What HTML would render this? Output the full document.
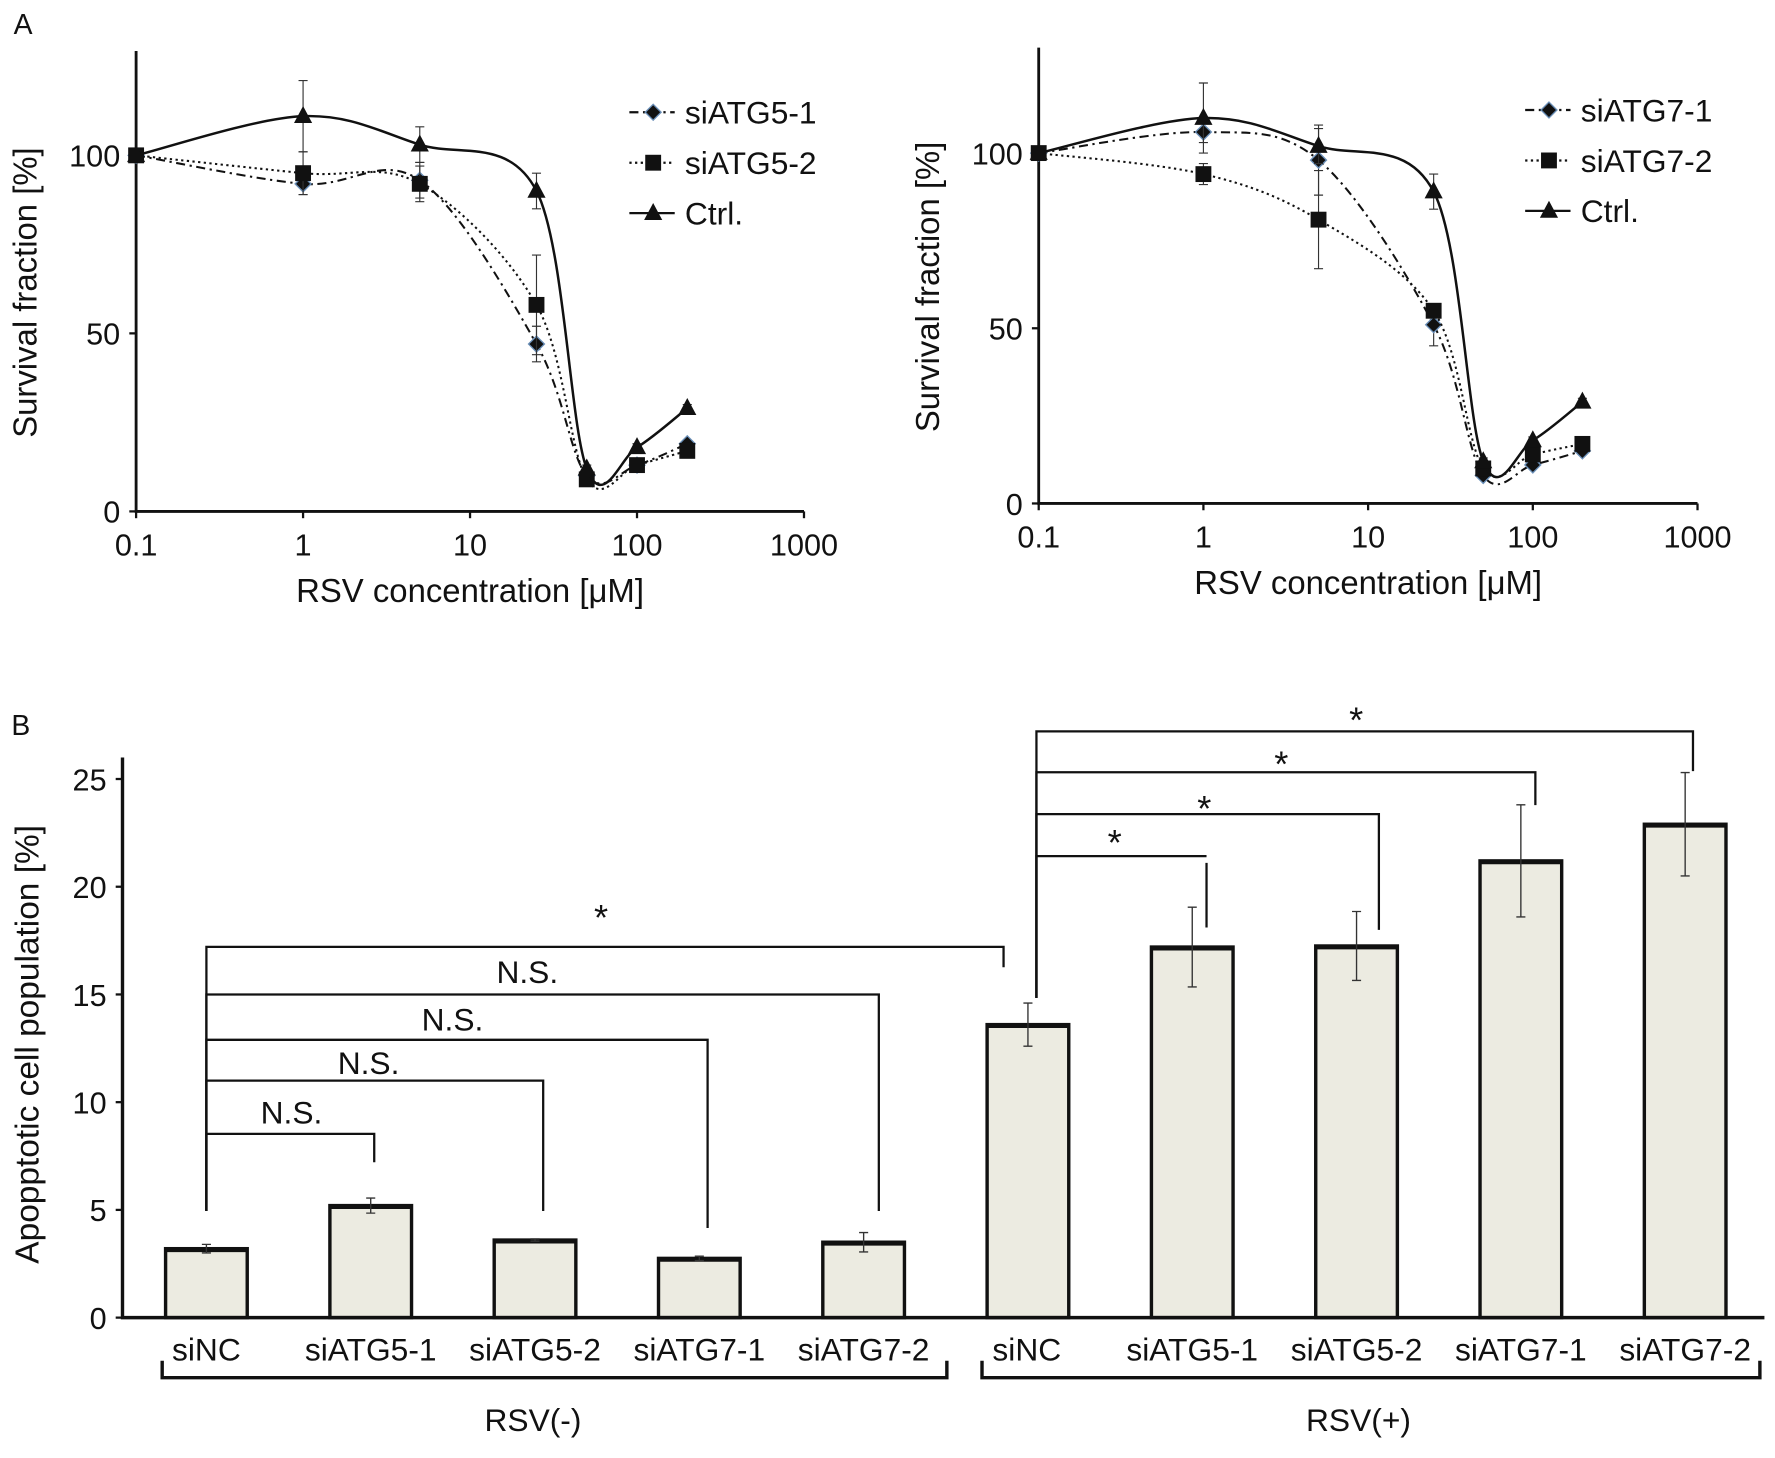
<!DOCTYPE html>
<html><head><meta charset="utf-8"><style>
html,body{margin:0;padding:0;background:#fff;}
svg{display:block;font-family:"Liberation Sans",Arial,sans-serif;}
</style></head><body>
<svg id="fig" width="1775" height="1458" viewBox="0 0 1565.3 1285.8" xmlns="http://www.w3.org/2000/svg"></svg>
<script>
// ---------- Panel A data ----------
const concs = [0.1, 1, 5, 25, 50, 100, 200];
const xTicksA = [0.1, 1, 10, 100, 1000];
const xTickLabelsA = ["0.1", "1", "10", "100", "1000"];
const yTicksA = [0, 50, 100];
const atg5_1 = [100, 92, 93, 47, 10, 13, 19];
const atg5_1_err = [0, 3, 5, 5, 1, 1, 1];
const atg5_2 = [100, 95, 92, 58, 9, 13, 17];
const atg5_2_err = [0, 6, 5, 14, 1, 1, 1];
const ctrlA = [100, 111, 103, 90, 12, 18, 29];
const ctrlA_err = [0, 10, 5, 5, 1, 1, 1];
const atg7_1 = [100, 106, 98, 51, 8, 11, 15];
const atg7_1_err = [0, 3, 10, 6, 1, 1, 1];
const atg7_2 = [100, 94, 81, 55, 10, 14, 17];
const atg7_2_err = [0, 3, 14, 2, 1, 1, 1];
const ctrlB = [100, 110, 102, 89, 12, 18, 29];
const ctrlB_err = [0, 10, 5, 5, 1, 1, 1];
// ---------- Panel B data ----------
const barCats = ["siNC","siATG5-1","siATG5-2","siATG7-1","siATG7-2","siNC","siATG5-1","siATG5-2","siATG7-1","siATG7-2"];
const barVals = [3.2, 5.2, 3.6, 2.75, 3.5, 13.6, 17.2, 17.25, 21.2, 22.9];
const barErrs = [0.2, 0.35, 0.05, 0.1, 0.45, 1.0, 1.85, 1.6, 2.6, 2.4];
const yTicksB = [0, 5, 10, 15, 20, 25];

const NS = "http://www.w3.org/2000/svg";
const svg = document.getElementById("fig");
function mk(tag, attrs, parent) {
  const e = document.createElementNS(NS, tag);
  for (const k in attrs) e.setAttribute(k, attrs[k]);
  (parent || svg).appendChild(e);
  return e;
}
function txt(s, x, y, size, anchor, parent) {
  const t = mk("text", {x: x, y: y, "font-size": size, "text-anchor": anchor || "middle", fill: "#111"}, parent);
  t.textContent = s;
  return t;
}
function catmull(pts) {
  let d = "M" + pts[0][0] + "," + pts[0][1];
  for (let i = 0; i < pts.length - 1; i++) {
    const p0 = pts[i - 1] || pts[i], p1 = pts[i], p2 = pts[i + 1], p3 = pts[i + 2] || p2;
    const c1x = p1[0] + (p2[0] - p0[0]) / 6, c1y = p1[1] + (p2[1] - p0[1]) / 6;
    const c2x = p2[0] - (p3[0] - p1[0]) / 6, c2y = p2[1] - (p3[1] - p1[1]) / 6;
    d += " C" + c1x + "," + c1y + " " + c2x + "," + c2y + " " + p2[0] + "," + p2[1];
  }
  return d;
}
function marker(kind, x, y, g) {
  let m;
  if (kind === "diamond") m = mk("polygon", {points: `${x},${y-7} ${x+7},${y} ${x},${y+7} ${x-7},${y}`, fill: "#111", stroke: "#6a8fb8", "stroke-width": 1.2}, g);
  else if (kind === "square") m = mk("rect", {x: x-7, y: y-7, width: 14, height: 14, fill: "#111"}, g);
  else m = mk("polygon", {points: `${x},${y-9} ${x+8},${y+6} ${x-8},${y+6}`, fill: "#111"}, g);
  return m;
}

function panelA(cfg) {
  const g = mk("g", {});
  
  
  const xs = v => cfg.x0 + (Math.log10(v) + 1) * cfg.dec;
  const ys = v => cfg.y0 - v * cfg.yu;
  const ax = mk("path", {d: `M${xs(0.1)},${cfg.top} V${ys(0)} H${xs(1000)}`, stroke: "#111", "stroke-width": 2.5, fill: "none"}, g);
  
  
  xTicksA.forEach((v, i) => {
    mk("line", {x1: xs(v), x2: xs(v), y1: ys(0), y2: ys(0) + 6, stroke: "#111", "stroke-width": 2}, g);
    const t = txt(xTickLabelsA[i], xs(v), ys(0) + 39, 27, "middle", g);
    
    
  });
  yTicksA.forEach(v => {
    mk("line", {x1: xs(0.1) - 6, x2: xs(0.1), y1: ys(v), y2: ys(v), stroke: "#111", "stroke-width": 2}, g);
    const t = txt(String(v), xs(0.1) - 14, ys(v) + 10, 27, "end", g);
    
    
  });
  const yt = txt("Survival fraction [%]", 0, 0, 29, "middle", g);
  yt.setAttribute("transform", `translate(${cfg.x0 - 88},${(cfg.top + ys(0)) / 2 + 10}) rotate(-90)`);
  
  
  const xt = txt("RSV concentration [\u03bcM]", xs(10), ys(0) + 80, 29, "middle", g);
  
  
  cfg.series.forEach((s, si) => {
    const pts = concs.map((c, i) => [xs(c), ys(s.vals[i])]);
    const ln = mk("path", {d: catmull(pts), fill: "none", stroke: "#111", "stroke-width": s.kind === "triangle" ? 2.2 : 1.8, "stroke-dasharray": s.dash}, g);
    
    
    concs.forEach((c, i) => {
      if (s.errs[i] > 0) {
        const e = mk("path", {d: `M${xs(c)},${ys(s.vals[i]+s.errs[i])} V${ys(s.vals[i]-s.errs[i])} M${xs(c)-4},${ys(s.vals[i]+s.errs[i])} h8 M${xs(c)-4},${ys(s.vals[i]-s.errs[i])} h8`, stroke: "#333", "stroke-width": 1, fill: "none"}, g);
        
        
      }
      const m = marker(s.kind, xs(c), ys(s.vals[i]), g);
      
      
    });
    const ly = cfg.legY + si * 44.5;
    const lg = mk("g", {}, g);
    
    
    mk("line", {x1: cfg.legX, x2: cfg.legX + 40, y1: ly, y2: ly, stroke: "#111", "stroke-width": 2, "stroke-dasharray": s.dash}, lg);
    marker(s.kind, cfg.legX + 21, ly, lg);
    txt(s.label, cfg.legX + 49, ly + 10, 28, "start", lg);
  });
}

const la = txt("A", 12, 30, 25, "start");


panelA({name: "panel-a-atg5-chart", x0: 120, dec: 147.25, y0: 451, yu: 3.14, top: 45, legX: 555, legY: 99,
  series: [
    {label: "siATG5-1", slug: "siatg5-1", vals: atg5_1, errs: atg5_1_err, kind: "diamond", dash: "8,4,2,4"},
    {label: "siATG5-2", slug: "siatg5-2", vals: atg5_2, errs: atg5_2_err, kind: "square", dash: "2,3"},
    {label: "Ctrl.", slug: "ctrl", vals: ctrlA, errs: ctrlA_err, kind: "triangle", dash: "none"}]});
panelA({name: "panel-a-atg7-chart", x0: 916, dec: 145.25, y0: 444, yu: 3.09, top: 42, legX: 1345, legY: 97,
  series: [
    {label: "siATG7-1", slug: "siatg7-1", vals: atg7_1, errs: atg7_1_err, kind: "diamond", dash: "8,4,2,4"},
    {label: "siATG7-2", slug: "siatg7-2", vals: atg7_2, errs: atg7_2_err, kind: "square", dash: "2,3"},
    {label: "Ctrl.", slug: "ctrl", vals: ctrlB, errs: ctrlB_err, kind: "triangle", dash: "none"}]});

// ---------- Panel B ----------
const lb = txt("B", 10, 648, 25, "start");


const gB = mk("g", {});


const bx0 = 182, bstep = 144.9, by0 = 1162, byu = 19.0;
const bxs = i => bx0 + i * bstep;
const bys = v => by0 - v * byu;
barVals.forEach((v, i) => {
  const r = mk("rect", {x: bxs(i) - 36, y: bys(v), width: 72, height: by0 - bys(v), fill: "#ecebe1", stroke: "#111", "stroke-width": 3}, gB);
  
  
  mk("line", {x1: bxs(i) - 36, x2: bxs(i) + 36, y1: bys(v) + 1, y2: bys(v) + 1, stroke: "#111", "stroke-width": 4}, gB);
  const e = barErrs[i];
  const eb = mk("path", {d: `M${bxs(i)},${bys(v+e)} V${bys(v-e)} M${bxs(i)-4},${bys(v+e)} h8 M${bxs(i)-4},${bys(v-e)} h8`, stroke: "#333", "stroke-width": 1.2, fill: "none"}, gB);
  
  
  const t = txt(barCats[i], bxs(i) + (i === 5 ? -1 : 0), 1200, 28, "middle", gB);
  
  
});
const axB = mk("path", {d: `M108,668 V${by0} H1556`, stroke: "#111", "stroke-width": 3, fill: "none"}, gB);


yTicksB.forEach(v => {
  mk("line", {x1: 102, x2: 108, y1: bys(v), y2: bys(v), stroke: "#111", "stroke-width": 2}, gB);
  const t = txt(String(v), 94, bys(v) + 10, 27, "end", gB);
  
  
});
const ytB = txt("Apopptotic cell population [%]", 0, 0, 29.5, "middle", gB);
ytB.setAttribute("transform", "translate(34,921) rotate(-90)");


// group braces
[[143, 835, "RSV(-)", 470], [866, 1552, "RSV(+)", 1198]].forEach(b => {
  const br = mk("path", {d: `M${b[0]},1200 V1215 H${b[1]} V1200`, stroke: "#111", "stroke-width": 3, fill: "none"}, gB);
  
  
  const t = txt(b[2], b[3], 1262, 28, "middle", gB);
  
  
});
// significance brackets
const sig = [
  [182, 885, 835, 853, 1068, "*", 530, 820],
  [182, 775, 877, 1068, 1068, "N.S.", 465, 867],
  [182, 624, 917, 1083, 1068, "N.S.", 399, 909],
  [182, 479, 953, 1068, 1068, "N.S.", 325, 947],
  [182, 330, 1000, 1025, 1068, "N.S.", 257, 991],
  [914, 1493, 645, 680, 880, "*", 1196, 646],
  [914, 1354, 681, 710, 880, "*", 1130, 685],
  [914, 1216, 718, 820, 880, "*", 1062, 724],
  [914, 1064, 755, 818, 880, "*", 983, 754]
];
sig.forEach(s => {
  const p = mk("path", {d: `M${s[0]},${s[4]} V${s[2]} H${s[1]} ${s[0]===914 && s[1]===1064 ? "M"+s[1]+","+(s[2]+6) : ""} V${s[3]}`, stroke: "#111", "stroke-width": 2, fill: "none"}, gB);
  
  
  const t = txt(s[5], s[6], s[7], s[5] === "*" ? 32 : 28, "middle", gB);
  
  
});
</script>
</body></html>
